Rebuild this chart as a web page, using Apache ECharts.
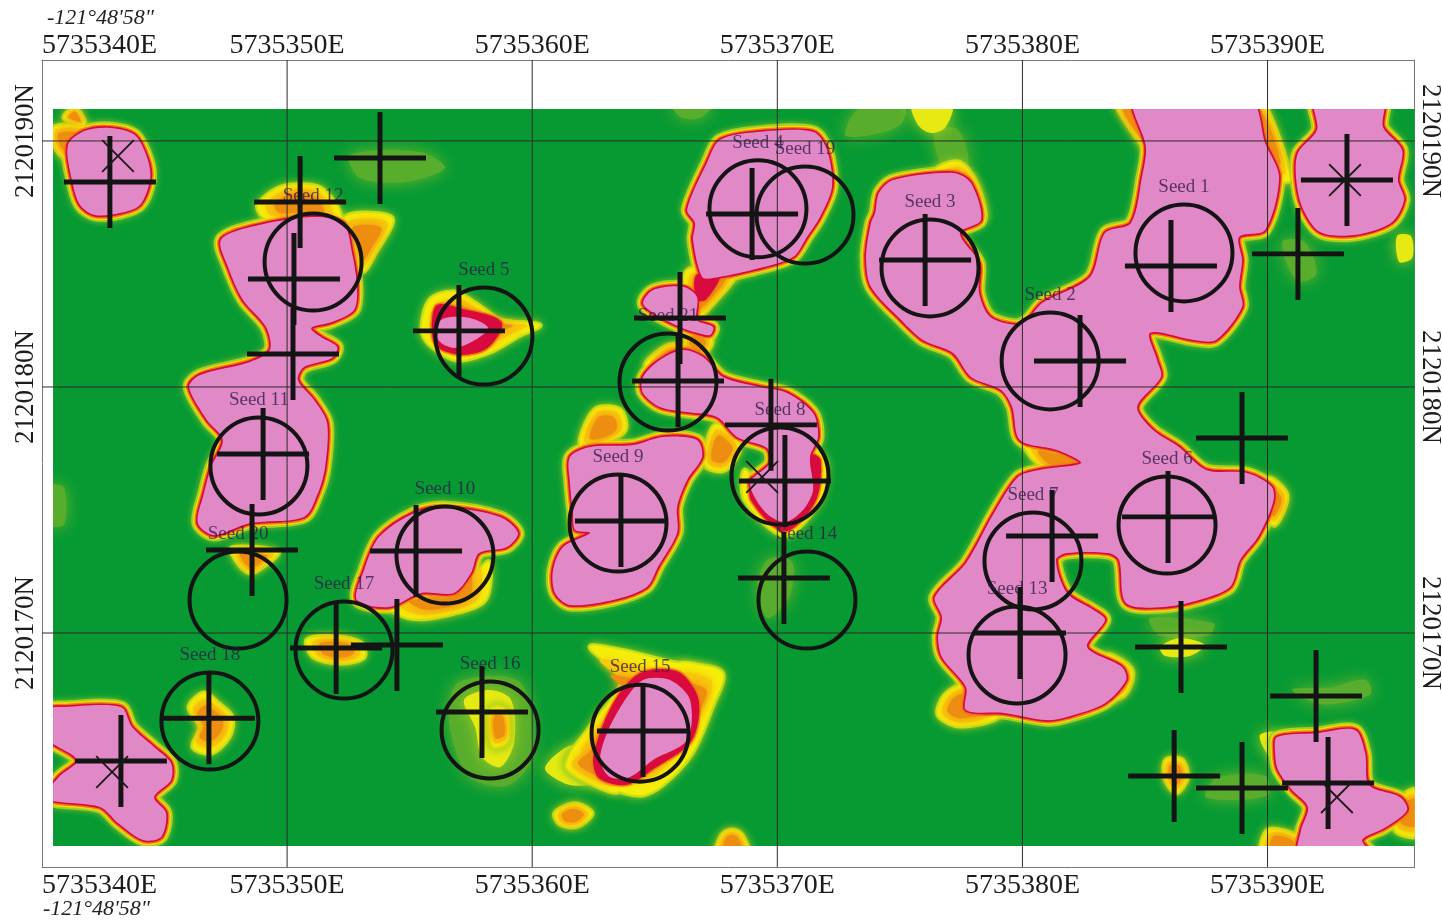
<!DOCTYPE html>
<html><head><meta charset="utf-8">
<style>html,body{margin:0;padding:0;background:#fff}#c{width:1442px;height:923px;filter:blur(.45px)}</style>
<script src="https://cdn.jsdelivr.net/npm/echarts@6/dist/echarts.min.js"></script></head>
<body><div id="c"></div>
<script>
const E0=5735340, N0=2120160;
const eastTicks=[5735340,5735350,5735360,5735370,5735380,5735390];
const northTicks=[2120170,2120180,2120190];
const longitudeLabel='-121°48\'58"';
const fieldEast=[5735340.45,5735396], fieldNorth=[2120161.34,2120191.30];

const seedNames=['Seed 1','Seed 2','Seed 3','Seed 4','Seed 5','Seed 6','Seed 7','Seed 8','Seed 9','Seed 10','Seed 11','Seed 12','Seed 13','Seed 14','Seed 15','Seed 16','Seed 17','Seed 18','Seed 19','Seed 20','Seed 21'];
const seedEast=[5735386.59,5735381.13,5735376.23,5735369.21,5735358.03,5735385.90,5735380.43,5735370.11,5735363.50,5735356.44,5735348.85,5735351.06,5735379.78,5735371.21,5735364.40,5735358.28,5735352.32,5735346.85,5735371.13,5735348.00,5735365.54];
const seedNorth=[2120185.45,2120181.06,2120184.84,2120187.24,2120182.07,2120174.39,2120172.93,2120176.38,2120174.47,2120173.17,2120176.79,2120185.08,2120169.11,2120171.34,2120165.93,2120166.06,2120169.31,2120166.42,2120186.99,2120171.34,2120180.20];

const crossEast=[2.77,13.79,10.53,10.28,10.24,17.01,26.03,25.95,28.97,29.74,30.31,36.03,42.35,46.06,51.24,53.24,48.96,45.94,41.21,9.02,23.62,15.26,8.57,12.00,14.48,6.81,17.95,24.52,30.27,39.90,46.47,51.98,46.19,48.96,52.47,3.22];
const crossNorth=[28.33,29.31,27.52,24.39,21.34,22.28,22.80,20.24,27.03,18.46,16.18,25.16,21.06,24.92,25.41,28.41,17.93,14.72,13.94,17.28,14.55,13.33,13.37,9.39,9.51,6.54,6.79,6.02,12.24,10.00,9.43,7.44,4.19,3.70,3.90,4.80];
const starEast=[3.10,2.86,29.38,53.16,52.83];
const starNorth=[29.39,4.35,16.34,28.41,3.33];

const pinkA=[[1.06,29.84],[1.75,30.41],[2.77,30.53],[3.79,30.24],[4.32,29.23],[4.41,28.41],[4.00,27.40],[3.18,27.07],[2.16,26.99],[1.55,27.40],[1.22,28.41]];
const pinkB=[[7.30,25.98],[8.49,26.50],[10.98,26.91],[12.28,26.67],[12.65,25.45],[12.85,24.07],[12.73,23.13],[11.83,22.64],[10.98,22.40],[11.38,22.03],[12.04,21.63],[11.83,21.18],[10.69,20.81],[10.44,20.28],[11.10,19.47],[11.63,18.54],[11.55,16.75],[11.26,15.69],[10.69,14.72],[8.49,14.47],[7.02,13.98],[6.36,14.47],[6.61,15.69],[6.90,16.75],[7.38,17.85],[6.73,18.66],[6.00,20.00],[6.45,20.49],[8.49,21.02],[9.30,21.50],[9.14,22.44],[8.20,23.54],[7.59,24.88]];
const pinkC=[[16.03,22.40],[16.44,22.80],[17.46,22.80],[18.20,22.40],[17.67,21.91],[16.85,21.59],[16.24,21.83]];
const pinkD=[[27.66,30.04],[29.29,30.37],[31.46,30.37],[32.03,29.63],[32.23,28.13],[31.74,26.91],[31.21,26.10],[30.64,25.28],[29.01,24.76],[27.38,24.43],[26.93,24.47],[26.56,25.98],[26.64,26.67],[26.32,27.20],[27.13,29.11]];
const pinkE=[[24.52,23.41],[24.93,23.94],[26.15,24.07],[26.72,23.66],[26.72,22.72],[27.38,22.44],[27.25,22.11],[26.72,22.20],[26.03,22.44],[24.93,23.01]];
const pinkF=[[24.52,20.41],[25.21,21.10],[26.15,21.50],[26.97,21.22],[27.78,20.41],[29.29,20.00],[30.40,19.76],[31.46,18.94],[31.66,17.97],[31.33,17.15],[31.46,15.81],[31.05,15.00],[30.31,14.51],[29.50,14.92],[28.89,16.10],[29.70,16.91],[29.58,17.52],[28.36,17.97],[27.54,18.78],[26.32,18.98],[25.21,19.19],[24.52,19.76]];
const pinkG=[[21.54,17.15],[22.36,17.56],[24.11,17.64],[25.34,17.97],[26.72,17.85],[26.93,17.15],[26.32,16.22],[25.91,15.12],[25.91,14.07],[25.13,12.68],[24.68,11.87],[23.30,11.34],[21.54,11.14],[20.93,11.63],[20.85,12.56],[21.26,13.50],[22.36,14.07],[21.75,14.19],[21.66,14.88],[21.54,16.10]];
const pinkH=[[13.75,13.90],[15.18,14.88],[16.36,15.12],[18.69,14.72],[19.42,14.07],[18.97,13.50],[17.83,13.25],[17.50,12.44],[16.81,11.63],[15.46,11.63],[14.16,11.06],[12.85,11.34],[13.14,12.56]];
const pinkI=[[24.52,8.09],[25.62,8.09],[26.44,7.28],[26.32,5.65],[24.93,4.84],[23.99,4.15],[23.17,4.15],[22.77,4.84],[23.05,5.93],[23.70,7.15]];
const pinkJ=[[34.15,27.89],[34.72,28.41],[37.17,28.70],[37.90,28.29],[38.31,26.79],[37.45,26.26],[38.23,25.04],[38.23,23.82],[38.68,22.85],[39.74,22.52],[40.19,22.72],[40.80,23.41],[42.76,24.47],[43.37,26.26],[44.43,26.67],[44.88,28.54],[45.04,29.76],[44.59,31.67],[49.29,31.67],[49.90,29.92],[50.47,28.54],[49.90,26.38],[48.84,26.10],[48.96,25.16],[48.84,24.07],[48.96,23.25],[47.90,21.91],[47.00,21.91],[45.21,22.20],[45.49,21.10],[45.65,20.41],[44.68,19.19],[45.33,18.25],[46.39,17.56],[47.49,16.63],[49.16,16.50],[50.18,15.93],[50.22,15.28],[49.61,13.90],[48.88,12.97],[48.47,11.87],[47.21,11.34],[45.78,11.06],[44.23,11.22],[43.94,12.97],[43.49,13.25],[41.82,13.25],[41.37,12.97],[41.82,11.63],[42.92,10.93],[43.37,10.53],[42.64,9.43],[44.06,8.62],[44.23,8.09],[43.37,7.15],[41.82,6.59],[40.96,6.46],[39.25,6.75],[37.70,6.87],[37.70,7.80],[36.72,9.02],[36.56,9.84],[36.72,10.65],[36.43,11.46],[37.70,12.85],[38.84,14.88],[39.82,16.34],[40.68,16.63],[42.39,16.91],[41.41,17.44],[39.90,17.85],[39.58,19.19],[39.13,19.88],[37.90,20.41],[37.17,21.38],[35.94,21.91],[35.05,22.72],[33.82,24.07],[33.62,25.28],[33.82,26.67],[33.99,27.07]];
const pinkK=[[51.94,31.67],[54.71,31.67],[54.71,30.57],[55.49,29.63],[55.32,28.41],[55.57,27.60],[55.04,26.67],[53.53,26.18],[52.14,26.30],[51.41,27.32],[51.16,28.54],[51.24,29.51],[52.02,30.45]];
const pinkL=[[0.12,6.87],[0.90,6.99],[3.22,6.99],[3.67,6.18],[4.57,5.37],[5.26,4.72],[5.26,4.02],[4.57,3.33],[5.06,2.68],[4.86,1.71],[4.12,1.59],[3.10,2.28],[2.37,2.93],[0.12,3.29],[0.69,4.15],[1.43,4.84],[0.12,5.77]];
const pinkM=[[50.39,5.77],[52.02,5.93],[53.57,6.06],[53.98,5.12],[54.14,3.82],[55.41,3.33],[55.69,2.80],[54.83,2.11],[53.86,1.59],[54.26,0.98],[51.29,0.98],[51.37,1.99],[51.65,2.93],[51.00,3.62],[50.43,4.43],[50.31,5.12]];
const pinkRegions=[pinkA,pinkB,pinkC,pinkD,pinkE,pinkF,pinkG,pinkH,pinkI,pinkJ,pinkK,pinkL,pinkM];

const hazeRegions=[
 [[25.70,31.46],[27.34,31.46],[26.85,30.94],[26.11,30.94]],
 [[32.76,30.24],[33.37,31.34],[35.21,31.34],[35.01,30.65],[33.78,30.24]],
 [[36.43,30.45],[37.37,30.45],[37.78,29.02],[36.72,29.02]],
 [[12.57,29.43],[15.42,29.55],[16.44,28.90],[14.81,28.33],[12.97,28.50]],
 [[29.65,13.0],[30.6,12.9],[30.5,11.5],[29.6,10.6],[29.2,12.0]],
 [[50.6,25.9],[51.5,25.9],[52.0,24.6],[51.2,24.3]],
 [[51.0,7.7],[52.6,7.8],[54.0,8.1],[54.2,7.5],[52.2,7.1]],
 [[45.2,10.6],[47.8,10.4],[47.6,9.9],[45.6,9.9]],
 [[47.9,4.1],[49.9,4.2],[50.0,3.4],[47.5,3.3]],
 [[17.0,8.0],[19.5,8.0],[20.0,5.0],[19.0,3.8],[17.4,4.2],[16.6,6.5]],
 [[0.3,16.0],[0.9,15.9],[0.9,14.4],[0.3,14.4]]
];
const warmYellow=[
 [[17.22,7.28],[18.24,7.68],[19.14,7.28],[19.26,5.53],[18.69,4.55],[17.95,4.96],[17.67,6.18]],
 [[35.50,31.46],[37.13,31.46],[36.84,30.53],[36.23,30.33],[35.74,30.65]],
 [[20.52,4.51],[21.75,5.45],[22.77,4.02],[21.54,3.82]],
 [[45.61,9.43],[46.43,9.80],[47.45,9.51],[46.84,9.07],[45.82,9.07]],
 [[55.28,26.14],[55.85,26.14],[55.90,25.24],[55.37,25.08]],
 [[49.69,5.85],[50.51,5.93],[50.51,4.84],[50.02,5.04]]
];
const warmOrange=[
 [[6.00,6.99],[6.61,7.56],[7.18,7.15],[7.75,6.59],[7.63,5.77],[6.90,5.12],[6.16,5.37],[6.45,6.18]],
 [[10.81,9.72],[12.00,9.84],[13.02,9.59],[13.14,9.02],[12.28,8.78],[11.10,9.02]],
 [[7.75,13.46],[9.63,13.29],[8.98,12.68],[8.49,12.44],[8.00,12.85]],
 [[18.24,12.89],[18.07,11.34],[16.48,10.73],[15.05,10.61],[13.99,11.14],[15.42,11.42],[16.85,11.46],[17.58,12.24]],
 [[8.81,27.40],[9.79,28.13],[11.26,28.13],[11.95,27.48],[12.16,26.87],[10.53,26.87],[9.10,26.87]],
 [[12.36,26.91],[14.28,26.87],[13.59,25.45],[13.06,24.67],[12.65,25.57]],
 [[15.83,23.54],[16.81,23.86],[17.79,23.33],[18.69,22.72],[20.32,22.52],[19.50,22.11],[18.28,21.42],[16.93,21.10],[15.83,21.71],[15.50,22.32]],
 [[22.36,9.43],[23.58,9.31],[25.62,8.82],[27.74,8.41],[27.34,6.99],[26.52,5.12],[25.30,3.82],[24.40,3.41],[22.89,3.82],[21.46,4.72],[22.36,6.18],[23.66,8.09]],
 [[26.0,8.7],[27.5,8.3],[27.0,6.8],[26.3,5.2],[25.6,5.0],[26.8,6.5]],
 [[23.0,6.8],[22.3,5.5],[21.4,4.6],[22.6,3.8],[23.5,3.6]],
 [[18.3,6.9],[18.9,6.9],[19.0,5.6],[18.4,5.4]],
 [[20.93,2.68],[21.75,3.05],[22.44,2.68],[21.83,2.15],[21.13,2.24]],
 [[27.54,0.98],[27.74,1.79],[28.15,1.99],[28.56,1.79],[28.80,0.98]],
 [[45.86,4.84],[46.51,4.84],[46.72,4.11],[46.27,3.50],[45.82,4.11]],
 [[50.02,1.99],[51.33,1.67],[51.33,0.98],[49.78,0.98]],
 [[55.57,3.41],[56.22,3.62],[56.22,1.79],[55.20,1.99]],
 [[0.45,30.53],[1.75,30.53],[1.14,29.23],[0.61,29.63]],
 [[0.90,30.94],[1.35,31.34],[1.75,30.65]],
 [[36.84,7.48],[37.70,7.89],[39.09,6.67],[37.45,6.22],[36.56,6.67]],
 [[43.37,9.11],[44.47,8.50],[44.16,7.48],[43.17,7.28]],
 [[40.11,17.64],[41.53,17.36],[42.76,16.95],[41.94,16.55],[40.72,16.83]],
 [[43.78,31.67],[44.59,31.67],[45.13,29.63],[44.59,30.24]],
 [[49.08,31.67],[49.78,31.67],[50.92,28.41],[50.10,28.62]],
 [[36.43,28.74],[37.37,29.15],[38.07,28.41],[38.47,26.87],[37.86,26.99]],
 [[50.02,16.30],[50.79,15.61],[50.31,14.39],[49.90,14.80]],
 [[26.44,22.32],[27.34,21.91],[26.85,21.18],[26.23,21.71]],
 [[24.60,20.89],[25.62,21.71],[26.85,21.50],[25.9,21.0]],
 [[27.46,18.46],[28.48,17.64],[27.87,16.63],[27.05,16.83]],
 [[28.68,16.63],[28.68,15.41],[30.31,13.98],[31.74,15.41],[31.95,17.03],[31.33,17.44],[30.93,15.41],[29.70,15.41]],
 [[22.56,19.08],[23.58,19.08],[23.79,18.25],[22.77,17.64],[21.95,17.64]],
 [[26.3,24.7],[28.4,24.8],[27.2,23.2],[26.6,22.7]]
];
const warmRed=[
 [[16.12,23.25],[17.05,23.13],[18.69,22.60],[18.12,21.63],[17.05,21.38],[16.08,21.79]],
 [[24.40,8.29],[25.91,8.37],[26.72,7.28],[26.44,5.65],[24.93,4.55],[23.87,3.90],[22.77,4.15],[22.56,4.96],[23.30,6.99]],
 [[26.75,24.5],[27.6,24.55],[27.05,23.6],[26.75,23.6]],
 [[29.0,16.3],[29.0,15.4],[30.3,14.2],[31.5,15.4],[31.7,17.0],[31.3,17.2],[30.9,15.0],[29.7,15.0]]
];

const crossPath='path://M47.3,0h5.4v47.3H100v5.4H52.7V100H47.3V52.7H0V47.3H47.3Z';
const starPath='path://M4,0L50,46L96,0L100,4L54,50L100,96L96,100L50,54L4,100L0,96L46,50L0,4Z';

function fieldRect(api){
  const a=api.coord([fieldEast[0],fieldNorth[1]]), b=api.coord([fieldEast[1],fieldNorth[0]]);
  return {x:a[0],y:a[1],width:b[0]-a[0],height:b[1]-a[1]};
}
function layer(polys,style,z,shrink){
  const k=shrink||1;
  return {type:'custom',coordinateSystem:'cartesian2d',silent:true,animation:false,z:z,clip:false,
    data:polys.map((_,i)=>[i]),
    renderItem(params,api){
      let pts=polys[params.dataIndex].map(p=>api.coord([E0+p[0],N0+p[1]]));
      if(k!==1){
        const cx=pts.reduce((s,p)=>s+p[0],0)/pts.length, cy=pts.reduce((s,p)=>s+p[1],0)/pts.length;
        pts=pts.map(p=>[cx+(p[0]-cx)*k,cy+(p[1]-cy)*k]);
      }
      return {type:'group',clipPath:{type:'rect',shape:fieldRect(api)},children:[
        {type:'polygon',shape:{points:pts,smooth:0.3},style:Object.assign({lineJoin:'round'},style)}]};
    }};
}
const hotEdge=warmRed.concat(pinkRegions);
const series=[];
series.push({type:'custom',coordinateSystem:'cartesian2d',silent:true,animation:false,z:2,clip:false,data:[[0]],
  renderItem(p,api){return {type:'rect',shape:fieldRect(api),style:{fill:'#079a33'}};}});
series.push(layer(hazeRegions,{fill:'#58ae2c',shadowBlur:16,shadowColor:'#6cb62c'},3));
series.push(layer(warmYellow,{fill:'#e6ea12',shadowBlur:14,shadowColor:'#a8cf20'},4));
series.push(layer(warmOrange,{fill:'#b8d81c',stroke:'#b8d81c',lineWidth:5,shadowBlur:10,shadowColor:'#7fc02a'},5));
series.push(layer(pinkRegions,{fill:'#a6d020',stroke:'#a6d020',lineWidth:13,shadowBlur:6,shadowColor:'#7fc02a'},5));
series.push(layer(warmOrange,{fill:'#f5ee0a',shadowBlur:5,shadowColor:'#f5ee0a'},6));
series.push(layer(pinkRegions,{fill:'#f5ee0a',stroke:'#f5ee0a',lineWidth:9},6));
series.push(layer(warmOrange,{fill:'#f8c80c',shadowBlur:8,shadowColor:'#f8c80c'},7,0.82));
series.push(layer(warmOrange,{fill:'#ee8e10',shadowBlur:10,shadowColor:'#ee8e10'},7,0.6));
series.push(layer(hotEdge,{fill:'#ee7a10',stroke:'#ee7a10',lineWidth:6,shadowBlur:2,shadowColor:'#ee7a10'},8));
series.push(layer(hotEdge,{fill:'#d80a3e',stroke:'#d80a3e',lineWidth:3.5},9));
series.push(layer(pinkRegions,{fill:'#e189c7'},10));

const gridStyle={color:'#2c2c2c',width:1};
eastTicks.slice(1).forEach(e=>series.push({type:'line',silent:true,animation:false,symbol:'none',z:11,lineStyle:gridStyle,
  data:[[e,2120160.49],[e,2120193.29]]}));
northTicks.forEach(n=>series.push({type:'line',silent:true,animation:false,symbol:'none',z:11,lineStyle:gridStyle,
  data:[[5735340,n],[5735396,n]]}));

series.push({type:'scatter',silent:true,animation:false,z:12,symbol:'circle',symbolSize:97,
  data:seedEast.map((e,i)=>({value:[e,seedNorth[i]],name:seedNames[i]})),
  itemStyle:{color:'rgba(0,0,0,0)',borderColor:'#141414',borderWidth:4,opacity:1},
  label:{show:true,position:'top',distance:6,formatter:p=>p.name,color:'rgba(45,25,70,.78)',
    fontFamily:'Liberation Serif',fontSize:19}});
series.push({type:'scatter',silent:true,animation:false,z:13,symbol:crossPath,symbolSize:92,
  data:crossEast.map((e,i)=>[E0+e,N0+crossNorth[i]]),itemStyle:{color:'#141414',opacity:1}});
series.push({type:'scatter',silent:true,animation:false,z:13,symbol:starPath,symbolSize:33,
  data:starEast.map((e,i)=>[E0+e,N0+starNorth[i]]),itemStyle:{color:'#1a1a1a',opacity:1}});

const labelFont={fontFamily:'Liberation Serif',fontSize:28,color:'#1c1c1c'};
const sideFont={fontFamily:'Liberation Serif',fontSize:27,color:'#1c1c1c'};
const frame={show:true,onZero:false,lineStyle:{color:'#777',width:1}};
function xAxis(position,margin){return {type:'value',position,min:5735340,max:5735396,
  axisLine:frame,axisTick:{show:false},splitLine:{show:false},
  axisLabel:Object.assign({show:true,customValues:eastTicks,margin,alignMinLabel:'left',formatter:v=>v+'E',hideOverlap:false},labelFont)};}
function yAxis(position,rotate,margin){return {type:'value',position,min:2120160.49,max:2120193.29,
  axisLine:frame,axisTick:{show:false},splitLine:{show:false},
  axisLabel:Object.assign({show:true,customValues:northTicks,rotate,margin,formatter:v=>v+'N'},sideFont)};}

const chart=echarts.init(document.getElementById('c'),null,{renderer:'canvas'});
chart.setOption({
  backgroundColor:'#fff',animation:false,
  grid:{left:42,top:60,width:1372.6,height:807,containLabel:false,outerBoundsMode:'none'},
  xAxis:[xAxis('bottom',5),xAxis('top',0)],
  yAxis:[yAxis('left',90,3),yAxis('right',-90,2)],
  graphic:[
   {type:'text',left:47,top:7,style:{text:longitudeLabel,font:'italic 22px "Liberation Serif"',fill:'#222'}},
   {type:'text',left:43,top:898,style:{text:longitudeLabel,font:'italic 22px "Liberation Serif"',fill:'#222'}}
  ],
  series
});
</script></body></html>
